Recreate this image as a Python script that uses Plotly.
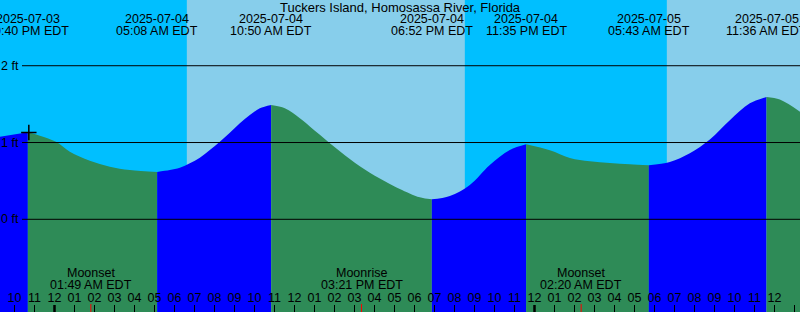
import plotly.graph_objects as go
import pandas as pd

# ---------------- data ----------------
title_text = "Tuckers Island, Homosassa River, Florida"

tide_times = [
    "2025-07-03 21:16", "2025-07-03 22:40", "2025-07-03 23:16", "2025-07-04 00:06",
    "2025-07-04 00:46", "2025-07-04 01:46", "2025-07-04 02:46", "2025-07-04 03:46",
    "2025-07-04 05:08", "2025-07-04 05:46", "2025-07-04 06:16", "2025-07-04 06:46",
    "2025-07-04 07:16", "2025-07-04 07:46", "2025-07-04 08:16", "2025-07-04 08:46",
    "2025-07-04 09:16", "2025-07-04 09:46", "2025-07-04 10:16", "2025-07-04 10:50",
    "2025-07-04 11:31", "2025-07-04 12:16", "2025-07-04 12:46", "2025-07-04 13:16",
    "2025-07-04 13:46", "2025-07-04 14:16", "2025-07-04 14:46", "2025-07-04 15:16",
    "2025-07-04 15:46", "2025-07-04 16:16", "2025-07-04 16:46", "2025-07-04 17:16",
    "2025-07-04 18:16", "2025-07-04 18:52",
    "2025-07-04 19:46", "2025-07-04 20:46", "2025-07-04 21:46", "2025-07-04 22:46",
    "2025-07-04 23:35", "2025-07-05 00:46", "2025-07-05 01:46", "2025-07-05 02:46",
    "2025-07-05 03:46", "2025-07-05 04:46", "2025-07-05 05:43", "2025-07-05 06:46",
    "2025-07-05 07:46", "2025-07-05 08:46", "2025-07-05 09:46", "2025-07-05 10:46",
    "2025-07-05 11:36", "2025-07-05 12:16", "2025-07-05 13:17",
]
tide_levels = [
    1.075, 1.133, 1.089, 1.006,
    0.880, 0.763, 0.685, 0.642,
    0.617, 0.642, 0.672, 0.729,
    0.802, 0.902, 1.010, 1.128,
    1.250, 1.358, 1.445, 1.488,
    1.445, 1.315, 1.210, 1.100,
    0.990, 0.885, 0.785, 0.690,
    0.607, 0.530, 0.460, 0.395,
    0.286, 0.260,
    0.303, 0.447, 0.707, 0.902,
    0.977, 0.90, 0.80, 0.756,
    0.734, 0.717, 0.704, 0.747,
    0.86, 1.04, 1.29, 1.51,
    1.594, 1.56, 1.40,
]

# extremes (high / low) shown at top
extreme_times = ["2025-07-03 22:40", "2025-07-04 05:08", "2025-07-04 10:50",
                 "2025-07-04 18:52", "2025-07-04 23:35", "2025-07-05 05:43",
                 "2025-07-05 11:36"]
extreme_dates = ["2025-07-03", "2025-07-04", "2025-07-04", "2025-07-04",
                 "2025-07-04", "2025-07-05", "2025-07-05"]
extreme_labels = ["10:40 PM EDT", "05:08 AM EDT", "10:50 AM EDT", "06:52 PM EDT",
                  "11:35 PM EDT", "05:43 AM EDT", "11:36 AM EDT"]

# daylight periods
day_starts = ["2025-07-03 12:00", "2025-07-04 06:37", "2025-07-05 06:37"]
day_ends = ["2025-07-03 20:31", "2025-07-04 20:31", "2025-07-05 20:31"]

# moon events
moon_times = ["2025-07-04 01:49", "2025-07-04 15:21", "2025-07-05 02:20"]
moon_names = ["Moonset", "Moonrise", "Moonset"]
moon_labels = ["01:49 AM EDT", "03:21 PM EDT", "02:20 AM EDT"]

midnights = ["2025-07-04 00:00", "2025-07-05 00:00"]

level_lines = [0, 1, 2]
level_labels = ["0 ft", "1 ft", "2 ft"]

now_time = "2025-07-03 22:43"
now_level = 1.13

x_range = ["2025-07-03 21:16:30", "2025-07-05 13:16:30"]
y_range = [-1.207, 2.856]

# ---------------- style ----------------
W, H = 800, 312
NIGHT = "#00BFFF"
DAY = "#87CEEB"
RISE = "#0000FF"
FALL = "#2E8B57"
FONT = "Liberation Sans, Arial, sans-serif"
LBL = 12.5
BASE = -3.0

fig = go.Figure()

t = pd.to_datetime(pd.Series(tide_times))
lv = list(tide_levels)
ext_idx = [tide_times.index(e) for e in extreme_times]
cuts = sorted(set([0] + ext_idx + [len(tide_times) - 1]))
for a, b in zip(cuts[:-1], cuts[1:]):
    rising = lv[b] > lv[a]
    seg_t = list(t[a:b + 1])
    seg_v = lv[a:b + 1]
    fig.add_trace(go.Scatter(x=[seg_t[0], seg_t[-1]], y=[BASE, BASE], mode="lines",
                             line=dict(width=0), hoverinfo="skip", showlegend=False))
    col = RISE if rising else FALL
    fig.add_trace(go.Scatter(x=seg_t, y=seg_v, mode="lines", fill="tonexty",
                             fillcolor=col, line=dict(width=0, color=col, shape="spline"),
                             hoverinfo="skip", showlegend=False))

# now marker
fig.add_trace(go.Scatter(x=[now_time], y=[now_level], mode="markers",
                         marker=dict(symbol="cross-thin", size=11,
                                     line=dict(width=1.5, color="black")),
                         showlegend=False, hoverinfo="skip"))

shapes = []
for s, e in zip(day_starts, day_ends):
    shapes.append(dict(type="rect", xref="x", yref="paper", x0=s, x1=e, y0=0, y1=1,
                       fillcolor=DAY, line=dict(width=0), layer="below"))
for lvl in level_lines:
    shapes.append(dict(type="line", xref="paper", yref="y", x0=22 / W, x1=1,
                       y0=lvl, y1=lvl, line=dict(color="black", width=1), layer="above"))
for m in midnights:
    shapes.append(dict(type="line", xref="x", yref="paper", x0=m, x1=m,
                       y0=0, y1=7 / H, line=dict(color="black", width=2.5), layer="above"))
for m in moon_times:
    shapes.append(dict(type="line", xref="x", yref="paper", x0=m, x1=m,
                       y0=0, y1=8 / H, line=dict(color="red", width=1), layer="above"))

ann = []
ann.append(dict(text=title_text, x=0.5, xref="paper", y=1 - 7 / H, yref="paper",
                showarrow=False, xanchor="center", yanchor="middle",
                font=dict(size=13, color="black", family=FONT)))
for et, d, lab in zip(extreme_times, extreme_dates, extreme_labels):
    ann.append(dict(text=d, x=et, xref="x", y=1 - 19 / H, yref="paper", showarrow=False,
                    xanchor="center", yanchor="middle",
                    font=dict(size=LBL, color="black", family=FONT)))
    ann.append(dict(text=lab, x=et, xref="x", y=1 - 31 / H, yref="paper", showarrow=False,
                    xanchor="center", yanchor="middle",
                    font=dict(size=LBL, color="black", family=FONT)))
for mt, nm, lab in zip(moon_times, moon_names, moon_labels):
    ann.append(dict(text=nm, x=mt, xref="x", y=1 - 273 / H, yref="paper", showarrow=False,
                    xanchor="center", yanchor="middle",
                    font=dict(size=LBL, color="black", family=FONT)))
    ann.append(dict(text=lab, x=mt, xref="x", y=1 - 285 / H, yref="paper", showarrow=False,
                    xanchor="center", yanchor="middle",
                    font=dict(size=LBL, color="black", family=FONT)))
for lvl, lab in zip(level_lines, level_labels):
    ann.append(dict(text=lab, x=0, xref="paper", y=lvl, yref="y", showarrow=False,
                    xanchor="left", yanchor="middle", borderpad=0,
                    font=dict(size=LBL, color="black", family=FONT)))

fig.update_layout(
    width=W, height=H, margin=dict(l=0, r=0, t=0, b=0),
    paper_bgcolor=NIGHT, plot_bgcolor=NIGHT,
    shapes=shapes, annotations=ann, showlegend=False,
    xaxis=dict(type="date", range=x_range, showgrid=False, zeroline=False,
               ticks="inside", ticklen=7, tickwidth=1, tickcolor="black",
               tickformat="%I", dtick=3600000, tick0="2025-07-04 00:00",
               ticklabelposition="inside", tickfont=dict(size=12.5, color="black", family=FONT),
               showline=False, fixedrange=True),
    yaxis=dict(range=y_range, showgrid=False, zeroline=False, showticklabels=False,
               ticks="", showline=False, fixedrange=True),
)

fig.write_html("out.html", config={"displayModeBar": False})
